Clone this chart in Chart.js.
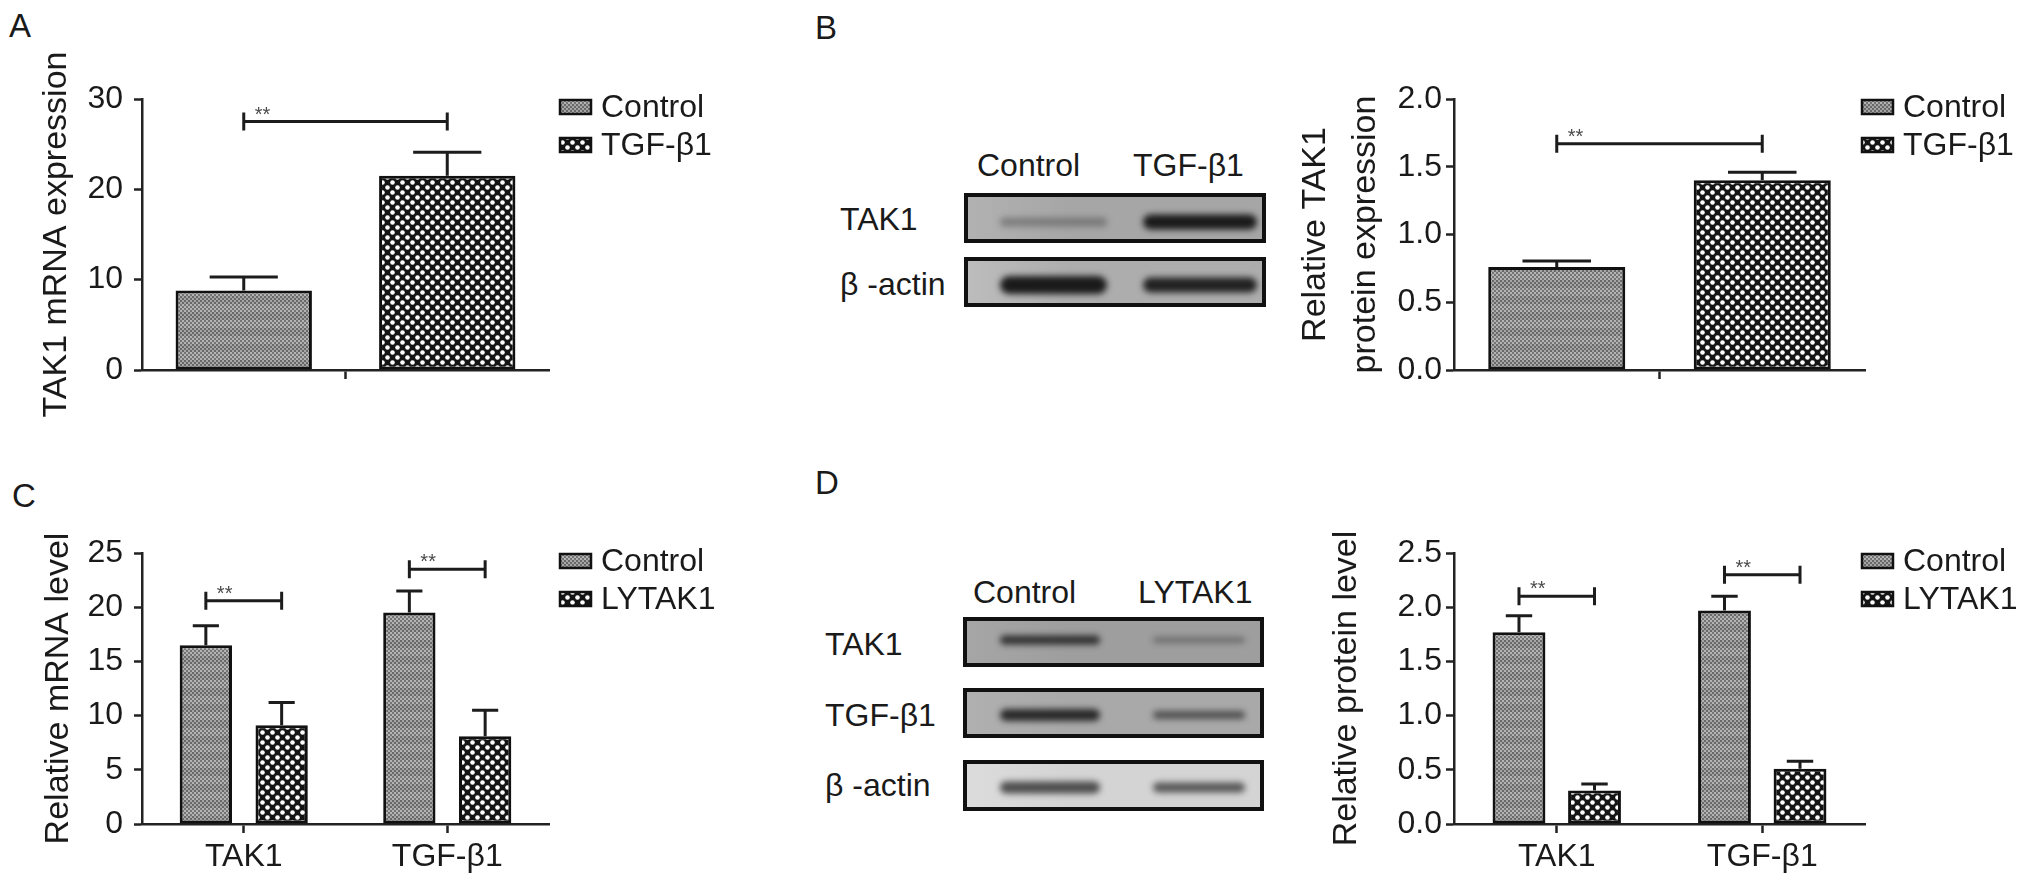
<!DOCTYPE html>
<html><head><meta charset="utf-8">
<script src="https://cdn.jsdelivr.net/npm/chart.js@4.4.1/dist/chart.umd.min.js"></script>
<style>
html,body{margin:0;padding:0;background:#fff;}
body{width:2031px;height:888px;position:relative;overflow:hidden;font-family:"Liberation Sans",Arial,Helvetica,sans-serif;color:#1a1a1a;}
canvas{position:absolute;}
.t{position:absolute;font-size:32px;line-height:32px;white-space:nowrap;}
.letter{font-size:33px;line-height:33px;}
</style></head><body>
<div class="t letter" style="left:9px;top:9px">A</div>
<div class="t letter" style="left:815px;top:11px">B</div>
<div class="t letter" style="left:12px;top:479px">C</div>
<div class="t letter" style="left:815px;top:466px">D</div>
<canvas id="cA" width="760" height="440" style="left:0;top:0"></canvas>
<canvas id="cB" width="751" height="440" style="left:1280px;top:0"></canvas>
<canvas id="cC" width="760" height="448" style="left:0;top:440px"></canvas>
<canvas id="cD" width="751" height="448" style="left:1280px;top:440px"></canvas>
<canvas id="blotB" width="312" height="124" style="left:960px;top:188px"></canvas>
<canvas id="blotD" width="312" height="204" style="left:958px;top:612px"></canvas>
<div id="labels"></div>
<script>
// ---------------- DATA ----------------
// Panel A: TAK1 mRNA expression
const aCategories = [''];
const aSeriesNames = ['Control', 'TGF-β1'];
const aControl = [8.8];
const aControlErr = [1.5];
const aTGF = [21.5];
const aTGFErr = [2.6];
const aYTicks = [0, 10, 20, 30];
const aSignif = [27.5];

// Panel B: relative TAK1 protein expression
const bCategories = [''];
const bSeriesNames = ['Control', 'TGF-β1'];
const bControl = [0.76];
const bControlErr = [0.045];
const bTGF = [1.40];
const bTGFErr = [0.06];
const bYTicks = [0.0, 0.5, 1.0, 1.5, 2.0];
const bSignif = [1.67];

// Panel C: relative mRNA level
const cCategories = ['TAK1', 'TGF-β1'];
const cSeriesNames = ['Control', 'LYTAK1'];
const cControl = [16.5, 19.5];
const cControlErr = [1.8, 2.0];
const cLY = [9.1, 8.1];
const cLYErr = [2.1, 2.4];
const cYTicks = [0, 5, 10, 15, 20, 25];
const cSignif = [20.6, 23.5];

// Panel D: relative protein level
const dCategories = ['TAK1', 'TGF-β1'];
const dSeriesNames = ['Control', 'LYTAK1'];
const dControl = [1.77, 1.97];
const dControlErr = [0.15, 0.13];
const dLY = [0.31, 0.51];
const dLYErr = [0.06, 0.07];
const dYTicks = [0.0, 0.5, 1.0, 1.5, 2.0, 2.5];
const dSignif = [2.10, 2.30];

// Western blots (band intensity 0..1)
const blotBLanes = ['Control', 'TGF-β1'];
const blotBRows = ['TAK1', 'β -actin'];
const blotBIntensity = [[0.30, 0.95], [0.95, 0.90]];
const blotDLanes = ['Control', 'LYTAK1'];
const blotDRows = ['TAK1', 'TGF-β1', 'β -actin'];
const blotDIntensity = [[0.80, 0.35], [0.85, 0.60], [0.70, 0.65]];

// ---------------- STYLE ----------------
const FONT = '"Liberation Sans", Arial, Helvetica, sans-serif';
const INK = '#1a1a1a';

function makeGrayPattern() {
  const c = document.createElement('canvas'); c.width = 4; c.height = 16;
  const g = c.getContext('2d');
  for (let y = 0; y < 16; y += 2) for (let x = 0; x < 4; x += 2) {
    const dark = ((x + y) / 2) % 2 === 0;
    const band = y < 8;
    g.fillStyle = dark ? (band ? '#747474' : '#686868') : (band ? '#b4b4b4' : '#a6a6a6');
    g.fillRect(x, y, 2, 2);
  }
  return g.createPattern(c, 'repeat');
}
function makeDotPattern() {
  const c = document.createElement('canvas'); c.width = 10; c.height = 10;
  const g = c.getContext('2d');
  g.fillStyle = '#141414'; g.fillRect(0, 0, 10, 10);
  g.fillStyle = '#ffffff';
  [[2.5, 2.5], [7.5, 7.5]].forEach(([x, y]) => { g.beginPath(); g.arc(x, y, 2.3, 0, Math.PI * 2); g.fill(); });
  return g.createPattern(c, 'repeat');
}
const PAT_GRAY = makeGrayPattern();
const PAT_DOTS = makeDotPattern();

// ---------------- PLUGINS ----------------
const errorBarsPlugin = {
  id: 'errorBars',
  afterDatasetsDraw(chart, args, opts) {
    const ctx = chart.ctx, y = chart.scales.y;
    ctx.save();
    ctx.strokeStyle = '#1c1c1c'; ctx.lineWidth = 3; ctx.lineCap = 'butt';
    chart.data.datasets.forEach((ds, i) => {
      const meta = chart.getDatasetMeta(i);
      const errs = opts.errors[i];
      meta.data.forEach((bar, j) => {
        const top = y.getPixelForValue(ds.data[j] + errs[j]);
        const half = bar.width * 0.25;
        ctx.beginPath();
        ctx.moveTo(bar.x, bar.y); ctx.lineTo(bar.x, top);
        ctx.moveTo(bar.x - half, top); ctx.lineTo(bar.x + half, top);
        ctx.stroke();
      });
    });
    ctx.restore();
  }
};
const bracketPlugin = {
  id: 'sigBrackets',
  afterDatasetsDraw(chart, args, opts) {
    const ctx = chart.ctx, y = chart.scales.y;
    const m0 = chart.getDatasetMeta(0), m1 = chart.getDatasetMeta(1);
    ctx.save();
    opts.values.forEach((v, j) => {
      const x0 = m0.data[j].x, x1 = m1.data[j].x, py = y.getPixelForValue(v);
      ctx.strokeStyle = '#1c1c1c'; ctx.lineWidth = 3;
      ctx.beginPath();
      ctx.moveTo(x0, py); ctx.lineTo(x1, py);
      ctx.moveTo(x0, py - 9); ctx.lineTo(x0, py + 9);
      ctx.moveTo(x1, py - 9); ctx.lineTo(x1, py + 9);
      ctx.stroke();
      ctx.fillStyle = '#4a4a4a'; ctx.font = '20px ' + FONT;
      ctx.textAlign = 'left'; ctx.textBaseline = 'alphabetic';
      ctx.fillText('**', x0 + 11, py - 1);
    });
    ctx.restore();
  }
};
const legendPlugin = {
  id: 'patternLegend',
  afterDraw(chart, args, opts) {
    const ctx = chart.ctx, top = chart.chartArea.top;
    ctx.save();
    chart.data.datasets.forEach((ds, i) => {
      const cy = top + 8 + i * 38;
      ctx.fillStyle = ds.backgroundColor;
      ctx.fillRect(opts.x, cy - 7, 31, 14);
      ctx.lineWidth = 2.5; ctx.strokeStyle = '#111';
      ctx.strokeRect(opts.x, cy - 7, 31, 14);
      ctx.fillStyle = INK; ctx.font = '32px ' + FONT;
      ctx.textAlign = 'left'; ctx.textBaseline = 'middle';
      ctx.fillText(ds.label, opts.x + 41, cy + 1);
    });
    ctx.restore();
  }
};

// ---------------- CHART FACTORY ----------------
function barChart(id, p) {
  const fills = [PAT_GRAY, PAT_DOTS];
  return new Chart(document.getElementById(id), {
    type: 'bar',
    data: {
      labels: p.categories,
      datasets: p.names.map((n, i) => ({
        label: n, data: p.values[i], backgroundColor: fills[i],
        borderColor: '#111', borderWidth: 3, borderSkipped: false,
        categoryPercentage: p.catPct, barPercentage: p.barPct
      }))
    },
    options: {
      responsive: false, animation: false, events: [],
      layout: { padding: { left: 0, top: p.padTop, right: p.padRight, bottom: p.padBottom } },
      plugins: {
        legend: { display: false }, tooltip: { enabled: false },
        errorBars: { errors: p.errors },
        sigBrackets: { values: p.signif },
        patternLegend: { x: p.legendX }
      },
      scales: {
        x: {
          offset: true,
          grid: { offset: false, drawOnChartArea: false, drawTicks: true, tickLength: 9, tickWidth: 2.5, tickColor: '#222' },
          border: { display: true, color: '#222', width: 2.5 },
          ticks: { font: { family: FONT, size: 32 }, color: INK, padding: 5, maxRotation: 0, autoSkip: false },
          afterFit: s => { s.height = p.xAxisH; }
        },
        y: {
          min: p.yTicks[0], max: p.yTicks[p.yTicks.length - 1],
          afterBuildTicks: s => { s.ticks = p.yTicks.map(v => ({ value: v })); },
          grid: { drawOnChartArea: false, drawTicks: true, tickLength: 8, tickWidth: 2.5, tickColor: '#222' },
          border: { display: true, color: '#222', width: 2.5 },
          ticks: { font: { family: FONT, size: 32 }, color: INK, padding: p.yTickPad, callback: v => p.fmt(v) },
          title: { display: true, text: p.yTitle, color: INK, font: { family: FONT, size: 34, lineHeight: p.titleLH }, padding: { top: p.titlePad, bottom: 0 } },
          afterFit: s => { s.width = p.yAxisW; }
        }
      }
    },
    plugins: [errorBarsPlugin, bracketPlugin, legendPlugin]
  });
}

const int = v => String(v);
const one = v => Number(v).toFixed(1);

barChart('cA', { categories: aCategories, names: aSeriesNames, values: [aControl, aTGF], errors: [aControlErr, aTGFErr],
  signif: aSignif, yTicks: aYTicks, fmt: int, yTitle: 'TAK1 mRNA expression', titleLH: 1.2, titlePad: 36,
  catPct: 1.0, barPct: 0.67, padTop: 99, padRight: 211, padBottom: 30, xAxisH: 40, yAxisW: 142, yTickPad: 11, legendX: 560 });
barChart('cB', { categories: bCategories, names: bSeriesNames, values: [bControl, bTGF], errors: [bControlErr, bTGFErr],
  signif: bSignif, yTicks: bYTicks, fmt: one, yTitle: ['Relative TAK1', 'protein expression'], titleLH: 1.47, titlePad: 11,
  catPct: 1.0, barPct: 0.667, padTop: 99, padRight: 166, padBottom: 30, xAxisH: 40, yAxisW: 174, yTickPad: 4, legendX: 582 });
barChart('cC', { categories: cCategories, names: cSeriesNames, values: [cControl, cLY], errors: [cControlErr, cLYErr],
  signif: cSignif, yTicks: cYTicks, fmt: int, yTitle: 'Relative mRNA level', titleLH: 1.2, titlePad: 38,
  catPct: 0.745, barPct: 0.69, padTop: 113, padRight: 211, padBottom: 4, xAxisH: 60, yAxisW: 142, yTickPad: 11, legendX: 560 });
barChart('cD', { categories: dCategories, names: dSeriesNames, values: [dControl, dLY], errors: [dControlErr, dLYErr],
  signif: dSignif, yTicks: dYTicks, fmt: one, yTitle: 'Relative protein level', titleLH: 1.2, titlePad: 46,
  catPct: 0.735, barPct: 0.70, padTop: 113, padRight: 166, padBottom: 4, xAxisH: 60, yAxisW: 174, yTickPad: 4, legendX: 582 });

// ---------------- WESTERN BLOTS ----------------
function drawBlot(id, spec, intensity) {
  const g = document.getElementById(id).getContext('2d');
  spec.boxes.forEach((b, r) => {
    g.save();
    const grad = g.createLinearGradient(b.x, 0, b.x + b.w, 0);
    grad.addColorStop(0, spec.bgLeft[r]); grad.addColorStop(0.35, spec.bg[r]); grad.addColorStop(1, spec.bg[r]);
    g.fillStyle = grad; g.fillRect(b.x, b.y, b.w, b.h);
    g.beginPath(); g.rect(b.x, b.y, b.w, b.h); g.clip();
    intensity[r].forEach((a, l) => {
      const lane = spec.lanes[l];
      const t = spec.thick[r][l];
      const cy = b.y + b.h / 2 + spec.dy[r];
      g.filter = 'blur(3px)';
      g.fillStyle = 'rgba(18,18,18,' + a + ')';
      g.beginPath();
      if (g.roundRect) g.roundRect(b.x + lane[0], cy - t / 2, lane[1] - lane[0], t, t / 2);
      else g.ellipse(b.x + (lane[0] + lane[1]) / 2, cy, (lane[1] - lane[0]) / 2, t / 2, 0, 0, Math.PI * 2);
      g.fill();
      g.filter = 'none';
    });
    g.restore();
    g.lineWidth = 4; g.strokeStyle = '#111';
    g.strokeRect(b.x + 2, b.y + 2, b.w - 4, b.h - 4);
  });
}
drawBlot('blotB', {
  boxes: [{ x: 4, y: 5, w: 302, h: 50 }, { x: 4, y: 69, w: 302, h: 50 }],
  bg: ['#a6a6a6', '#adadad'], bgLeft: ['#b2b2b2', '#bdbdbd'],
  lanes: [[36, 143], [179, 293]],
  thick: [[9, 15], [18, 15]], dy: [4, 3]
}, blotBIntensity);
drawBlot('blotD', {
  boxes: [{ x: 5, y: 5, w: 301, h: 50 }, { x: 5, y: 76, w: 301, h: 50 }, { x: 5, y: 148, w: 301, h: 51 }],
  bg: ['#9e9e9e', '#a9a9a9', '#d4d4d4'], bgLeft: ['#a6a6a6', '#b0b0b0', '#dcdcdc'],
  lanes: [[37, 137], [190, 282]],
  thick: [[9, 6], [12, 8], [12, 10]], dy: [-2, 2, 2]
}, blotDIntensity);

// blot text labels (real text)
const labelHost = document.getElementById('labels');
function addText(txt, x, capTop) {
  const d = document.createElement('div');
  d.className = 't'; d.textContent = txt;
  d.style.left = x + 'px'; d.style.top = (capTop - 4) + 'px';
  labelHost.appendChild(d);
}
[977, 1133].forEach((x, i) => addText(blotBLanes[i], x, 153));
[207, 272].forEach((y, i) => addText(blotBRows[i], 840, y));
[973, 1138].forEach((x, i) => addText(blotDLanes[i], x, 580));
[632, 703, 773].forEach((y, i) => addText(blotDRows[i], 825, y));
</script>
</body></html>
